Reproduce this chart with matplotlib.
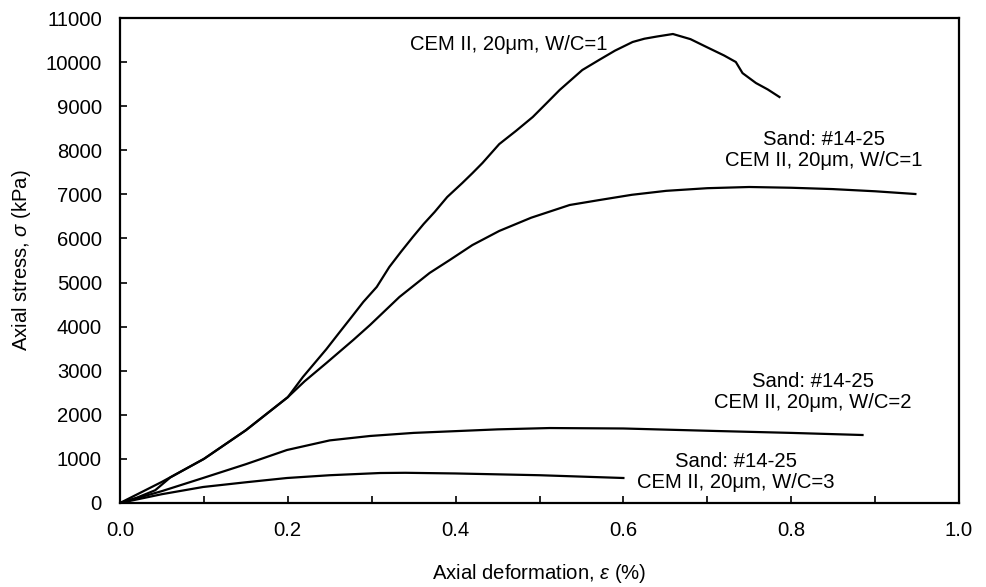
import matplotlib
matplotlib.use("Agg")
import matplotlib.pyplot as plt

plt.rcParams["font.family"] = ["Liberation Sans", "DejaVu Sans"]
plt.rcParams["mathtext.fontset"] = "custom"
plt.rcParams["mathtext.rm"] = "Liberation Sans"
plt.rcParams["mathtext.it"] = "Liberation Sans:italic"

# CEM II, 20um, W/C=1 (no sand)
eps_cem1 = [0, 0.02, 0.042, 0.06, 0.10, 0.15, 0.20, 0.218, 0.246, 0.262, 0.276, 0.29,
            0.306, 0.321, 0.335, 0.349, 0.362, 0.375, 0.390, 0.408, 0.42, 0.432, 0.452,
            0.472, 0.492, 0.508, 0.524, 0.551, 0.571, 0.59, 0.611, 0.625, 0.640, 0.659,
            0.680, 0.699, 0.720, 0.734, 0.742, 0.758, 0.772, 0.786]
sig_cem1 = [0, 120, 290, 580, 1000, 1650, 2400, 2858, 3490, 3880, 4218, 4560,
            4900, 5353, 5700, 6033, 6330, 6600, 6940, 7258, 7480, 7711, 8140,
            8440, 8755, 9060, 9367, 9820, 10048, 10260, 10456, 10530, 10580, 10637,
            10520, 10343, 10150, 10002, 9750, 9525, 9380, 9208]

# Sand #14-25, CEM II, 20um, W/C=1
eps_s1 = [0, 0.05, 0.10, 0.15, 0.20, 0.22, 0.246, 0.278, 0.298, 0.333, 0.369, 0.393,
          0.42, 0.452, 0.49, 0.536, 0.571, 0.61, 0.651, 0.70, 0.75, 0.80, 0.849, 0.90, 0.948]
sig_s1 = [0, 480, 1000, 1650, 2400, 2760, 3175, 3697, 4037, 4672, 5217, 5511,
          5850, 6170, 6470, 6759, 6870, 6990, 7080, 7140, 7167, 7150, 7120, 7070, 7008]

# Sand #14-25, CEM II, 20um, W/C=2
eps_s2 = [0, 0.05, 0.099, 0.15, 0.199, 0.25, 0.298, 0.35, 0.4, 0.45, 0.512, 0.6,
          0.711, 0.8, 0.885]
sig_s2 = [0, 270, 567, 880, 1202, 1420, 1520, 1590, 1630, 1670, 1700, 1690,
          1633, 1590, 1542]

# Sand #14-25, CEM II, 20um, W/C=3
eps_s3 = [0, 0.05, 0.099, 0.15, 0.199, 0.25, 0.31, 0.34, 0.4, 0.5, 0.6]
sig_s3 = [0, 200, 363, 470, 567, 630, 680, 685, 670, 630, 567]

x_ticks = [0.0, 0.1, 0.2, 0.3, 0.4, 0.5, 0.6, 0.7, 0.8, 0.9, 1.0]
x_tick_labels = ["0.0", "", "0.2", "", "0.4", "", "0.6", "", "0.8", "", "1.0"]
y_ticks = list(range(0, 11001, 1000))

labels = [
    ("CEM II, 20μm, W/C=1", 0.4636, 10410),
    ("Sand: #14-25\nCEM II, 20μm, W/C=1", 0.839, 8006),
    ("Sand: #14-25\nCEM II, 20μm, W/C=2", 0.826, 2517),
    ("Sand: #14-25\nCEM II, 20μm, W/C=3", 0.734, 703),
]

fig = plt.figure(figsize=(9.86, 5.87), dpi=100)
ax = fig.add_axes([120 / 986, 1 - 503 / 587, 839 / 986, 485 / 587])

for xs, ys in [(eps_cem1, sig_cem1), (eps_s1, sig_s1), (eps_s2, sig_s2), (eps_s3, sig_s3)]:
    ax.plot(xs, ys, color="black", lw=1.6, solid_joinstyle="round")

for txt, x, y in labels:
    ax.text(x, y, txt, ha="center", va="center", multialignment="center",
            fontsize=14.6, color="black", linespacing=1.15)

ax.set_xlim(0, 1.0)
ax.set_ylim(0, 11000)
ax.set_xticks(x_ticks)
ax.set_xticklabels(x_tick_labels)
ax.set_yticks(y_ticks)
ax.tick_params(direction="in", length=5, width=1.2, labelsize=14.6, pad=13)
for s in ax.spines.values():
    s.set_linewidth(1.6)

ax.set_xlabel("Axial deformation, $\\it{ε}$ (%)", fontsize=14.6, labelpad=16)
ax.set_ylabel("Axial stress, $\\it{σ}$ (kPa)", fontsize=14.6, labelpad=9)

fig.savefig("out.png", dpi=100)
